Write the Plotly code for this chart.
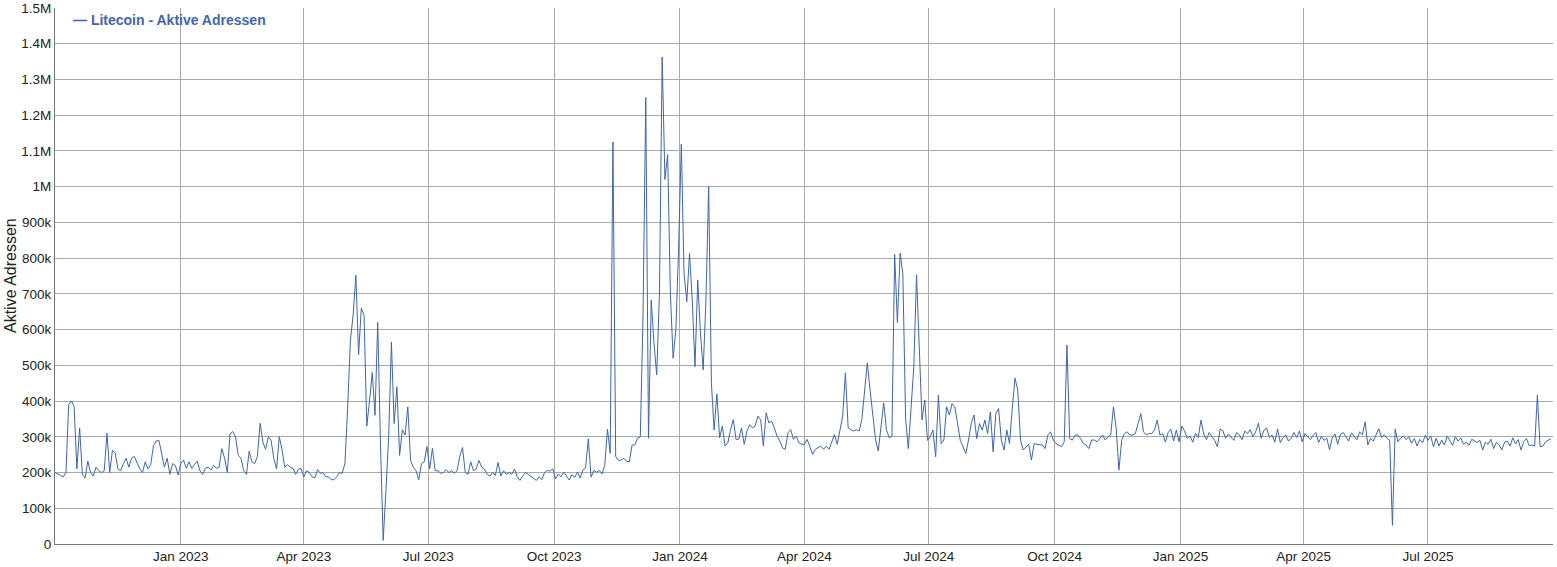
import pandas as pd
import plotly.graph_objects as go

# Litecoin active addresses (thousands), 2-day samples starting 2022-10-01
q4_2022 = [200,195,192,188,200,390,400,385,210,325,195,185,232,200,190,215,205,200,205,310,
           200,262,255,210,205,225,240,215,240,245,225,210,200,230,210,222,275,288,290,250,
           215,240,195,225,220]
q1_2023 = [193,225,235,212,230,212,222,232,205,195,212,215,207,220,212,215,267,240,200,308,
           315,300,248,240,205,195,260,230,225,245,338,285,265,300,290,240,210,300,265,215,
           222,215,212,195,210]
q2_2023 = [211,188,205,200,188,185,208,198,200,188,188,180,180,188,200,198,225,380,570,640,
           752,530,660,640,330,400,480,360,620,280,10,150,300,565,337,440,248,320,305,384,
           234,215,205,180,225]
q3_2023 = [230,273,210,268,205,205,198,200,208,200,205,198,205,245,270,200,195,230,205,210,
           234,215,210,195,190,200,192,228,190,205,195,200,195,210,188,178,190,200,195,190,
           185,178,188,180,200]
q4_2023 = [206,204,210,182,196,188,201,191,179,194,186,201,185,206,215,294,187,206,201,206,
           196,220,321,254,1125,245,234,235,240,231,231,277,277,296,300,640,1250,296,683,562,
           473,700,1363,1020,1090]
q1_2024 = [700,520,599,823,1119,757,678,813,683,496,739,590,487,683,1000,450,319,420,297,330,
           274,283,320,348,293,293,325,279,316,334,325,330,358,348,274,367,339,344,325,302,
           288,269,265,311,320]
q2_2024 = [293,302,283,279,279,293,269,251,265,269,274,265,274,265,283,306,279,320,358,479,
           325,320,316,320,316,348,432,507,432,358,293,260,330,395,320,297,302,810,620,814,
           755,350,267,384,496]
q3_2024 = [753,571,347,403,290,300,319,244,417,281,291,384,361,393,384,337,290,272,253,291,
           337,361,295,337,319,347,309,370,258,365,379,291,263,319,281,379,464,431,291,263,
           272,279,235,281,279]
q4_2024 = [277,277,267,305,314,291,281,277,272,286,557,295,291,305,305,295,281,277,267,291,
           291,286,295,305,291,300,305,384,323,207,290,309,314,305,305,309,337,365,314,305,
           309,309,319,347,305]
q1_2025 = [309,285,312,321,288,319,286,330,316,296,302,285,310,298,347,308,292,312,300,290,
           272,322,317,296,308,300,290,312,306,292,316,309,320,300,314,338,296,318,325,298,
           305,285,322,284,298]
q2_2025 = [305,288,296,312,298,316,286,309,300,292,304,312,284,301,290,296,264,298,308,279,
           307,312,300,288,311,302,292,314,306,342,277,296,288,305,323,298,306,296,290,52,
           322,286,296,302,292]
q3_2025 = [300,282,295,274,293,283,304,290,302,272,296,274,291,277,302,289,276,300,288,297,
           279,285,276,293,288,284,290,263,285,279,293,267,284,278,263,285,288,274,297,280,
           292,263,286,295,275]
q4_2025 = [277,274,417,272,274,286,291,295]

values_k = (q4_2022 + q1_2023 + q2_2023 + q3_2023 + q4_2023 + q1_2024 + q2_2024 +
            q3_2024 + q4_2024 + q1_2025 + q2_2025 + q3_2025 + q4_2025)
values = [v * 1000 for v in values_k]
dates = pd.date_range("2022-10-01", periods=len(values), freq="2D")

x_tickvals = ["2023-01-01", "2023-04-01", "2023-07-01", "2023-10-01", "2024-01-01",
              "2024-04-01", "2024-07-01", "2024-10-01", "2025-01-01", "2025-04-01",
              "2025-07-01"]
x_ticktext = ["Jan 2023", "Apr 2023", "Jul 2023", "Oct 2023", "Jan 2024", "Apr 2024",
              "Jul 2024", "Oct 2024", "Jan 2025", "Apr 2025", "Jul 2025"]

y_tickvals = [0, 100e3, 200e3, 300e3, 400e3, 500e3, 600e3, 700e3, 800e3, 900e3,
              1e6, 1.1e6, 1.2e6, 1.3e6, 1.4e6, 1.5e6]
y_ticktext = ["0", "100k", "200k", "300k", "400k", "500k", "600k", "700k", "800k", "900k",
              "1M", "1.1M", "1.2M", "1.3M", "1.4M", "1.5M"]

series_name = "Litecoin - Aktive Adressen"
y_title = "Aktive Adressen"
line_color = "#3f66ae"
font_family = "Liberation Sans, Arial, sans-serif"

fig = go.Figure()
fig.add_trace(go.Scatter(x=dates, y=values, mode="lines", name=series_name,
                         line=dict(color=line_color, width=1), showlegend=False))

fig.update_layout(
    width=1557, height=567,
    margin=dict(l=55, r=4, t=8, b=23),
    paper_bgcolor="white", plot_bgcolor="white",
    font=dict(family=font_family, size=13.5, color="#222"),
    xaxis=dict(
        range=["2022-10-01", "2025-09-30 10:00"],
        tickmode="array", tickvals=x_tickvals, ticktext=x_ticktext,
        showgrid=True, gridcolor="#a9a9a9", gridwidth=1,
        showline=True, linecolor="#777", linewidth=1,
        ticks="", zeroline=False, automargin=False,
        tickfont=dict(size=13.5, color="#222"),
    ),
    yaxis=dict(
        range=[0, 1.5e6],
        tickmode="array", tickvals=y_tickvals, ticktext=y_ticktext,
        showgrid=True, gridcolor="#a9a9a9", gridwidth=1,
        showline=True, linecolor="#777", linewidth=1,
        ticks="", zeroline=False, automargin=False,
        tickfont=dict(size=13.5, color="#222"),
    ),
    annotations=[
        dict(text="<b>— " + series_name + "</b>", xref="paper", yref="paper",
             x=0, y=1, xanchor="left", yanchor="top", xshift=16, yshift=-2,
             showarrow=False, font=dict(size=14, color=line_color, family=font_family)),
        dict(text=y_title, xref="paper", yref="paper", x=0, y=0.5,
             xanchor="center", yanchor="middle", xshift=-45, textangle=-90,
             showarrow=False, font=dict(size=16, color="#222", family=font_family)),
    ],
)

fig.write_html("out.html", config={"displayModeBar": False},
               post_script="document.body.style.margin='0';document.body.style.overflow='hidden';")
